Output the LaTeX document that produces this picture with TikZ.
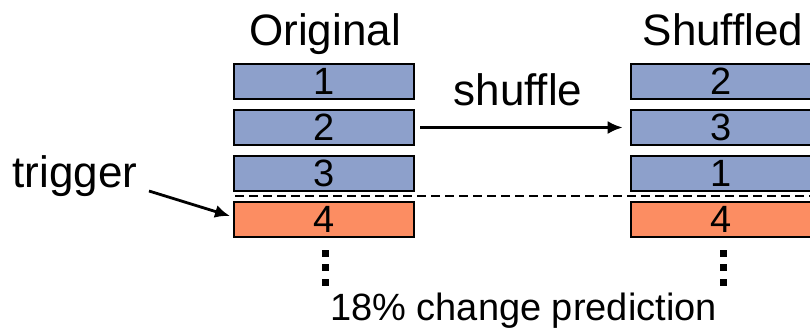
\documentclass[tikz,border=0pt]{standalone}
\usepackage{fontspec}
\setmainfont{Liberation Sans}
\usetikzlibrary{arrows.meta}
\definecolor{rowblue}{HTML}{8DA0CB}
\definecolor{roworange}{HTML}{FC8D62}
\begin{document}
\begin{tikzpicture}[x=1pt,y=-1pt,
  rowbox/.style={draw=black,line width=2.6pt,minimum width=180pt,minimum height=35pt,
    inner sep=0pt,font=\fontsize{38}{40}\selectfont},
  bluerow/.style={rowbox,fill=rowblue},
  orangerow/.style={rowbox,fill=roworange},
  bigtext/.style={anchor=base,inner sep=0pt,font=\fontsize{44}{48}\selectfont},
  midtext/.style={anchor=base,inner sep=0pt,font=\fontsize{38}{40}\selectfont},
  dotsq/.style={fill=black,inner sep=0pt,minimum size=7pt},
  arr/.style={line width=2.8pt,-{Latex[length=15pt,width=13pt]}}]
\useasboundingbox (0,0) rectangle (810,333);
\clip (0,0) rectangle (810,333);

% column titles
\node[bigtext] (torig) at (325,45) {Original};
\node[bigtext] (tshuf) at (723,45) {Shuffled};

% original order
\node[bluerow]   (o1) at (324,81.5)  {1};
\node[bluerow]   (o2) at (324,127.5) {2};
\node[bluerow]   (o3) at (324,173.5) {3};
\node[orangerow] (o4) at (324,219.5) {4};

% shuffled order
\node[bluerow]   (s2) at (721,81.5)  {2};
\node[bluerow]   (s3) at (721,127.5) {3};
\node[bluerow]   (s1) at (721,173.5) {1};
\node[orangerow] (s4) at (721,219.5) {4};

% trigger boundary
\coordinate (dashL) at (235,196);
\coordinate (dashR) at (812,196);
\draw[line width=2.6pt,dash pattern=on 9pt off 5pt] (dashL) -- (dashR);

% shuffle arrow
\node[bigtext] (shuf) at (518,105) {shuffle};
\draw[arr,shorten <=5pt,shorten >=7pt] (o2.east) -- (s3.west);

% trigger label
\node[bigtext] (trig) at (75,187) {trigger};
\coordinate (trigA) at (149,191);
\coordinate (trigB) at (230,216);
\draw[arr] (trigA) -- (trigB);

% continuation dots
\node[dotsq] (ld1) at (325,253) {};
\node[dotsq] (ld2) at (325,267.5) {};
\node[dotsq] (ld3) at (325,282) {};
\node[dotsq] (rd1) at (723,253) {};
\node[dotsq] (rd2) at (723,267.5) {};
\node[dotsq] (rd3) at (723,282) {};

\node[midtext] (pred) at (523.5,320) {18\% change prediction};
\end{tikzpicture}
\end{document}
